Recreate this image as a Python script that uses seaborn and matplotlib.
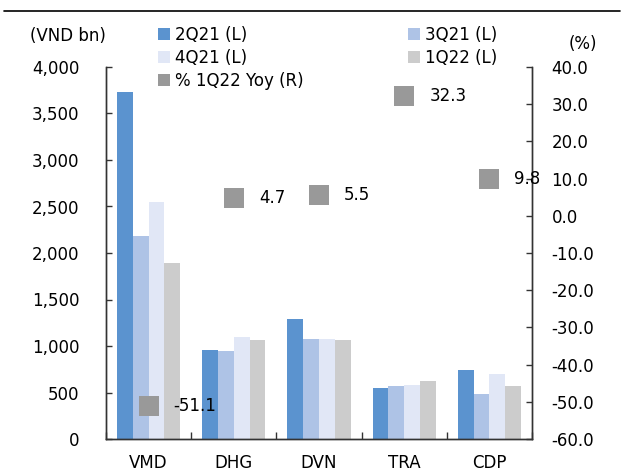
import matplotlib
matplotlib.use("Agg")
import matplotlib.pyplot as plt
import matplotlib.lines as mlines
from matplotlib.patches import Patch
from matplotlib.ticker import FixedLocator, FuncFormatter
import seaborn as sns
import pandas as pd
import numpy as np

categories = ["VMD", "DHG", "DVN", "TRA", "CDP"]
series_names = ["2Q21 (L)", "3Q21 (L)", "4Q21 (L)", "1Q22 (L)"]
vals_2q21 = [3730, 954, 1287, 552, 745]
vals_3q21 = [2185, 943, 1075, 570, 484]
vals_4q21 = [2552, 1094, 1070, 584, 699]
vals_1q22 = [1892, 1068, 1061, 624, 573]
yoy = [-51.1, 4.7, 5.5, 32.3, 9.8]
yoy_name = "% 1Q22 Yoy (R)"

colors = ["#5B93CF", "#AEC3E6", "#E1E7F6", "#CCCCCC"]
marker_color = "#999999"

sns.set_style("white")
plt.rcParams["font.family"] = ["DejaVu Sans"]
plt.rcParams["font.size"] = 12
plt.rcParams["text.color"] = "black"
plt.rcParams["xtick.color"] = "black"
plt.rcParams["ytick.color"] = "black"

rows = []
for name, vals in zip(series_names, [vals_2q21, vals_3q21, vals_4q21, vals_1q22]):
    for c, v in zip(categories, vals):
        rows.append({"cat": c, "series": name, "value": v})
df = pd.DataFrame(rows)

fig = plt.figure(figsize=(6.23, 4.73), dpi=100)
ax = fig.add_axes([106 / 623, 1 - 439 / 473, (532 - 106) / 623, (439 - 67) / 473])

sns.barplot(data=df, x="cat", y="value", hue="series", order=categories,
            hue_order=series_names, palette=colors, width=0.74, gap=0,
            saturation=1, ax=ax, legend=False, linewidth=0)

ax2 = ax.twinx()
sns.pointplot(x=categories, y=yoy, order=categories, ax=ax2, linestyle="none",
              marker="s", color=marker_color, markersize=14, markeredgewidth=0,
              errorbar=None)
for i, v in enumerate(yoy):
    ax2.annotate(f"{v:.1f}", (i, v), xytext=(18, 0), textcoords="offset points",
                 va="center", ha="left", fontsize=12, color="black")

ax.set_xlim(-0.5, 4.5)
ax.set_ylim(0, 4000)
ax2.set_ylim(-60, 40)
ax.set_xlabel("")
ax.set_ylabel("")
ax2.set_ylabel("")

ax.set_yticks(np.arange(0, 4001, 500))
ax.yaxis.set_major_formatter(FuncFormatter(lambda v, p: f"{int(v):,}"))
ax2.set_yticks(np.arange(-60, 41, 10))
ax2.yaxis.set_major_formatter(FuncFormatter(lambda v, p: f"{v:.1f}"))

ax.set_xticks(range(len(categories)))
ax.set_xticklabels(categories)
ax.xaxis.set_minor_locator(FixedLocator(np.arange(-0.5, 4.6, 1.0)))

spine_color = "#333333"
for a in (ax, ax2):
    a.spines["top"].set_visible(False)
    for s in ["left", "right", "bottom"]:
        a.spines[s].set_color(spine_color)
        a.spines[s].set_linewidth(1.0)

ax.tick_params(axis="x", which="major", direction="in", length=5, width=1,
               color=spine_color, pad=11, labelsize=12, bottom=True, labelcolor="black")
ax.tick_params(axis="x", which="minor", direction="in", length=5, width=1,
               color=spine_color, bottom=True)
ax.tick_params(axis="y", direction="in", length=4, width=1, color=spine_color,
               pad=19, labelsize=12, left=True, labelcolor="black")
ax2.tick_params(axis="y", direction="in", length=4, width=1, color=spine_color,
                pad=14, labelsize=12, right=True, labelcolor="black")

fig.text(30 / 623, 1 - 36 / 473, "(VND bn)", ha="left", va="center", fontsize=12)
fig.text(583 / 623, 1 - 44 / 473, "(%)", ha="center", va="center", fontsize=12)

# top rule
fig.add_artist(mlines.Line2D([4 / 623, 620 / 623], [1 - 11 / 473, 1 - 11 / 473],
                             color="black", linewidth=1.2))

h = [Patch(facecolor=c, edgecolor="none") for c in colors]
hy = Patch(facecolor=marker_color, edgecolor="none")
leg_kw = dict(frameon=False, handlelength=0.7, handleheight=0.7, handletextpad=0.3,
              labelspacing=0.3, borderaxespad=0, borderpad=0, fontsize=12)
leg1 = fig.legend([h[0], h[2], hy], [series_names[0], series_names[2], yoy_name],
                  loc="upper left", bbox_to_anchor=(158 / 623, 1 - 26 / 473), **leg_kw)
leg2 = fig.legend([h[1], h[3]], [series_names[1], series_names[3]],
                  loc="upper left", bbox_to_anchor=(408 / 623, 1 - 26 / 473), **leg_kw)

fig.savefig("out.png", dpi=100)
